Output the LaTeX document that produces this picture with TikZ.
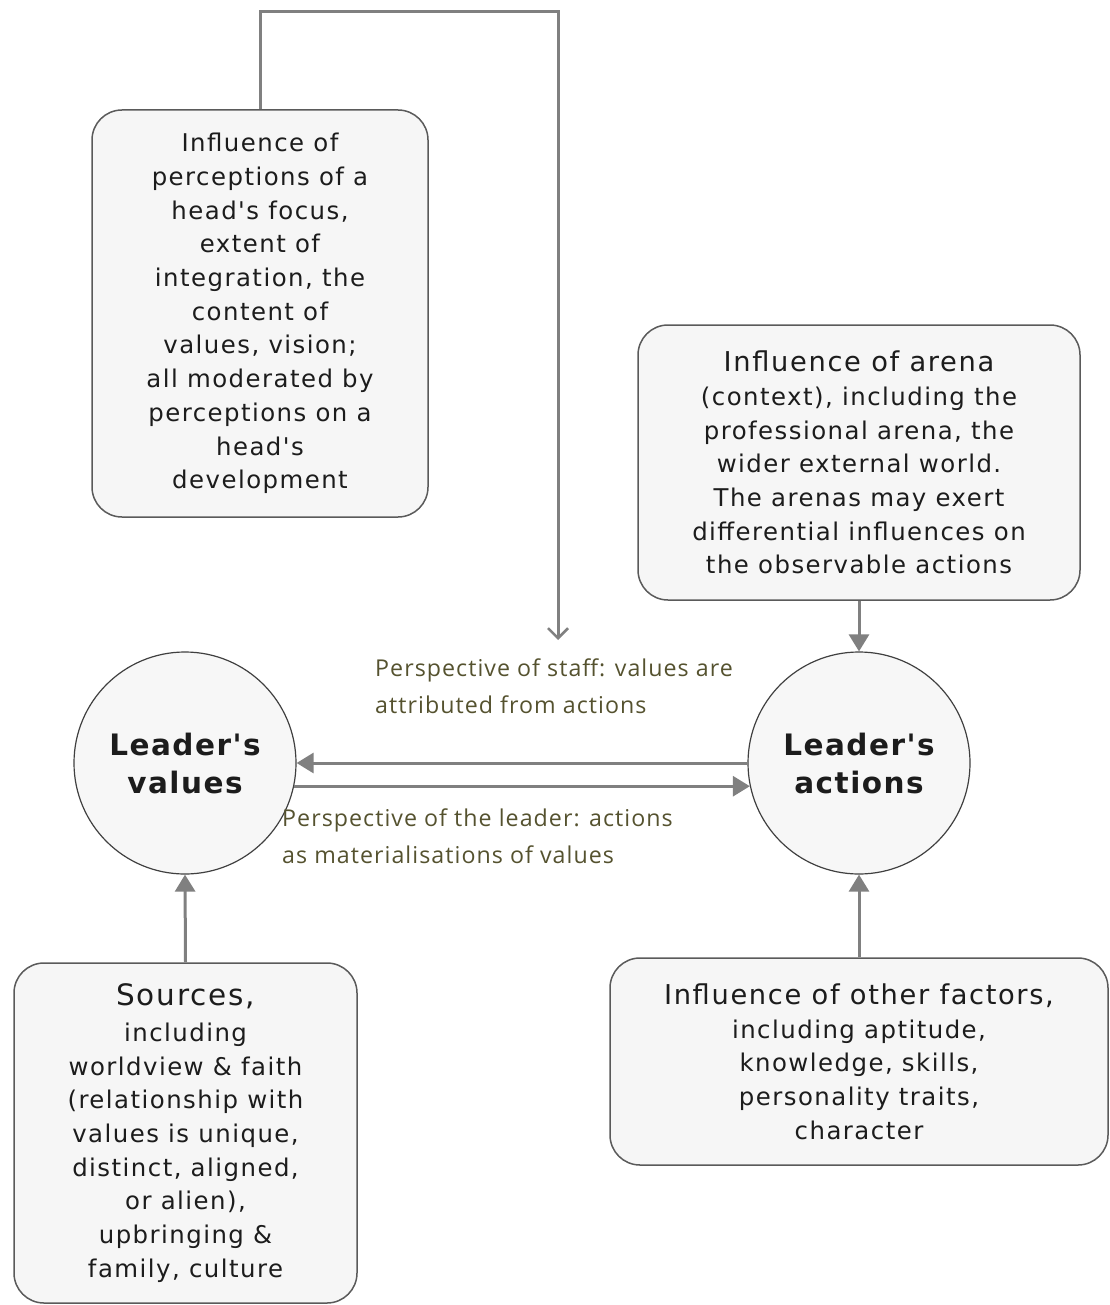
\documentclass[tikz,border=0pt]{standalone}
\usepackage{fontspec}
\usetikzlibrary{arrows.meta,shapes.geometric}
\newfontfamily\boxfont{DejaVu Sans}[LetterSpace=6]
\newfontfamily\boldboxfont{DejaVu Sans Bold}[LetterSpace=5]
\newfontfamily\notefont{Open Sans}[LetterSpace=4.5]
\definecolor{boxfill}{HTML}{F6F6F6}
\definecolor{boxline}{HTML}{5A5A5A}
\definecolor{circfill}{HTML}{F7F7F7}
\definecolor{circline}{HTML}{404040}
\definecolor{connline}{HTML}{808080}
\definecolor{bodytext}{HTML}{1C1C1C}
\definecolor{notetext}{HTML}{55522F}
\tikzset{
  infobox/.style={draw=boxline, line width=1.5pt, fill=boxfill, rounded corners=30pt,
    align=center, text=bodytext, inner sep=0pt,
    font=\boxfont\fontsize{24.4}{33.7}\selectfont},
  corecircle/.style={circle, draw=circline, line width=1.2pt, fill=circfill,
    minimum size=222pt, inner sep=0pt, align=center, text=bodytext,
    font=\boldboxfont\fontsize{29.5}{38}\selectfont},
  conn/.style={draw=connline, line width=3pt, -{Triangle[width=20pt,length=17pt]}},
  openconn/.style={draw=connline, line width=3pt, -{Straight Barb[width=20pt,length=10pt,line width=2.5pt]}},
  note/.style={anchor=west, align=left, text=notetext, inner sep=0pt,
    font=\notefont\fontsize{23.2}{37}\selectfont},
}
\newcommand\headtext[1]{{\fontsize{27.3}{33.7}\selectfont #1}}
\begin{document}
\begin{tikzpicture}[x=1pt,y=-1pt]
\useasboundingbox (0,0) rectangle (1109,1305);

% boxes of influences
\node[infobox, minimum width=336pt, minimum height=407pt] (focus) at (260,313.5)
  {Influence of\\perceptions of a\\head's focus,\\extent of\\integration, the\\content of\\values, vision;\\all moderated by\\perceptions on a\\head's\\development};
\node[infobox, minimum width=442pt, minimum height=275pt] (arena) at (859,462.5)
  {\headtext{Influence of arena}\\(context), including the\\professional arena, the\\wider external world.\\The arenas may exert\\differential influences on\\the observable actions};
\node[infobox, minimum width=343pt, minimum height=340pt] (sources) at (185.5,1133)
  {{\fontsize{29.5}{33.7}\selectfont Sources,}\\[2pt]including\\worldview \& faith\\(relationship with\\values is unique,\\distinct, aligned,\\or alien),\\upbringing \&\\family, culture};
\node[infobox, minimum width=498pt, minimum height=207pt] (factors) at (859,1061.5)
  {\headtext{Influence of other factors,}\\including aptitude,\\knowledge, skills,\\personality traits,\\character};

% the two core circles
\node[corecircle] (values) at (185,763) {Leader's\\values};
\node[corecircle] (actions) at (859,763) {Leader's\\actions};

% perspective notes
\node[note] (staffnote) at (375,686) {Perspective of staff: values are\\attributed from actions};
\node[note] (leadernote) at (282,836) {Perspective of the leader: actions\\as materialisations of values};

% connectors
\coordinate (drop) at (558,640);
\draw[openconn] (focus.north) |- (558,12) -- (drop);
\draw[conn] (arena.south) -- (actions.north);
\draw[conn] (actions.180.5) -- (values.-0.5);
\draw[conn] (values.-12.5) -- (actions.192.5);
\draw[conn] (sources.north) -- (values.south);
\draw[conn] (factors.north) -- (actions.south);
\end{tikzpicture}
\end{document}
